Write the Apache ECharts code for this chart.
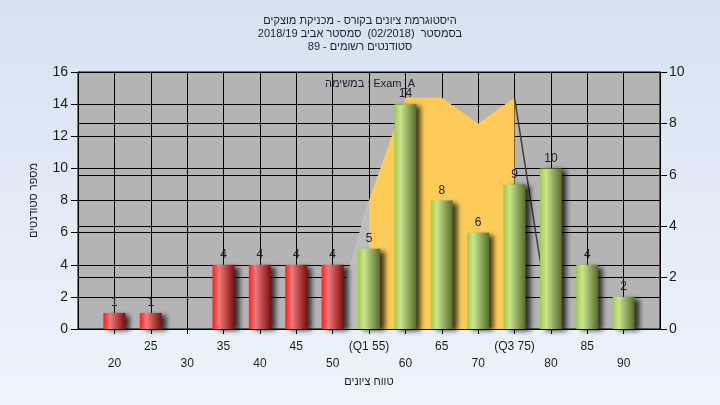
<!DOCTYPE html>
<html>
<head>
<meta charset="utf-8">
<script src="https://cdn.jsdelivr.net/npm/echarts@6/dist/echarts.min.js"></script>
<style>
  html, body { margin: 0; padding: 0; }
  #chart { width: 720px; height: 405px; }
</style>
</head>
<body>
<div id="chart"></div>
<script>
// ---- data ----
const titleLines = [
  'היסטוגרמת ציונים בקורס - מכניקת מוצקים',
  'בסמסטר  (02/2018)  סמסטר אביב 2018/19',
  'סטודנטים רשומים - 89'
];
const scores = [20, 25, 30, 35, 40, 45, 50, 55, 60, 65, 70, 75, 80, 85, 90];
const counts = [1, 1, 0, 4, 4, 4, 4, 5, 14, 8, 6, 9, 10, 4, 2];
const passFrom = 55;
const tickLabels = {55: '(Q1 55)', 75: '(Q3 75)'};
// box-plot-like overlay on the right axis
const boxMidX = [55, 60, 65, 70, 75];
const boxMidY = [5, 9, 9, 8, 9];
const boxLeftX = [50, 55];
const boxLeftY = [0, 5];
const boxRightX = [75, 80];
const boxRightY = [9, 0];
const legendText = 'במשימה : Exam_A';
const xName = 'טווח ציונים';
const yName = 'מספר סטודנטים';

const zip = (a, b) => a.map((v, i) => [v, b[i]]);

const redGrad = {type: 'linear', x: 0, y: 0, x2: 1, y2: 0, colorStops: [
  {offset: 0, color: '#ff1c1c'}, {offset: 0.3, color: '#f07a7a'}, {offset: 1, color: '#7a0e0e'}]};
const greenGrad = {type: 'linear', x: 0, y: 0, x2: 1, y2: 0, colorStops: [
  {offset: 0, color: '#9fcc45'}, {offset: 0.28, color: '#c9e58f'}, {offset: 1, color: '#556c2a'}]};

const barData = scores.map((s, i) => ({
  value: [s, counts[i]],
  itemStyle: {color: s >= passFrom ? greenGrad : redGrad}
}));

const font = '"Liberation Sans", Arial, "DejaVu Sans", sans-serif';
const chart = echarts.init(document.getElementById('chart'), null, {renderer: 'canvas'});
chart.setOption({
  animation: false,
  backgroundColor: {type: 'linear', x: 0, y: 0, x2: 0, y2: 1, colorStops: [
    {offset: 0, color: '#d6e2f1'}, {offset: 1, color: '#eef4fc'}]},
  textStyle: {fontFamily: font},
  title: {
    text: titleLines.join('\n'),
    left: 'center', top: 9,
    textStyle: {fontSize: 11, fontWeight: 'normal', color: '#1c1c38', lineHeight: 13, fontFamily: font}
  },
  graphic: [{
    type: 'text', left: 325, top: 78, z: 100,
    style: {text: legendText, fontSize: 11, fill: '#1c1c30', fontFamily: font}
  }],
  grid: {left: 78, right: 60, top: 72, bottom: 76, show: true,
    backgroundColor: '#b4b4b4', borderColor: '#000', borderWidth: 1},
  xAxis: {
    type: 'value', min: 15, max: 95, interval: 5,
    name: xName, nameLocation: 'middle', nameGap: 45,
    nameTextStyle: {fontSize: 11, color: '#1c1c1c', fontFamily: font},
    axisLine: {show: true, lineStyle: {color: '#000'}},
    axisTick: {show: true, length: 5, lineStyle: {color: '#000'}},
    splitLine: {show: true, lineStyle: {color: '#000', width: 1}},
    axisLabel: {
      fontSize: 12, color: '#1c1c1c', margin: 9, lineHeight: 17, fontFamily: font,
      showMinLabel: false, showMaxLabel: false,
      formatter: v => {
        if (v < 20 || v > 90) return '';
        const s = tickLabels[v] || String(v);
        return (v % 10 === 5) ? s : '\n' + s;
      }
    }
  },
  yAxis: [{
    type: 'value', min: 0, max: 16, interval: 2, position: 'left',
    name: yName, nameLocation: 'middle', nameGap: 39, nameRotate: 90,
    nameTextStyle: {fontSize: 11, color: '#1c1c1c', fontFamily: font},
    axisLine: {show: true, lineStyle: {color: '#000'}},
    axisTick: {show: true, length: 7, lineStyle: {color: '#000'}},
    splitLine: {show: true, lineStyle: {color: '#000', width: 1}},
    axisLabel: {fontSize: 14, color: '#1c1c1c', margin: 10, fontFamily: font}
  }, {
    type: 'value', min: 0, max: 10, interval: 2, position: 'right',
    axisLine: {show: true, lineStyle: {color: '#000'}},
    axisTick: {show: true, length: 7, lineStyle: {color: '#000'}},
    splitLine: {show: true, lineStyle: {color: '#000', width: 1}},
    axisLabel: {fontSize: 14, color: '#1c1c1c', margin: 9, fontFamily: font}
  }],
  series: [{
    type: 'line', yAxisIndex: 1, data: zip(boxLeftX, boxLeftY), symbol: 'none', z: 1,
    lineStyle: {width: 1, color: '#c4c4c4'},
    areaStyle: {color: '#bdbdbd', opacity: 1}
  }, {
    type: 'line', yAxisIndex: 1, data: zip(boxMidX, boxMidY), symbol: 'none', z: 1,
    lineStyle: {width: 0},
    areaStyle: {color: '#fecb58', opacity: 1}
  }, {
    type: 'line', yAxisIndex: 1, data: zip(boxRightX, boxRightY), symbol: 'none', z: 1,
    lineStyle: {width: 1.5, color: '#3c3c3c'}
  }, {
    type: 'bar', yAxisIndex: 0, data: barData, barWidth: 22, z: 3,
    itemStyle: {shadowColor: 'rgba(0,0,0,0.75)', shadowBlur: 5, shadowOffsetX: 5, shadowOffsetY: 2},
    label: {
      show: true, position: 'top', distance: 4, fontSize: 12, color: '#1c1c30', fontFamily: font,
      formatter: p => p.value[1] ? String(p.value[1]) : ''
    }
  }]
});
</script>
</body>
</html>
